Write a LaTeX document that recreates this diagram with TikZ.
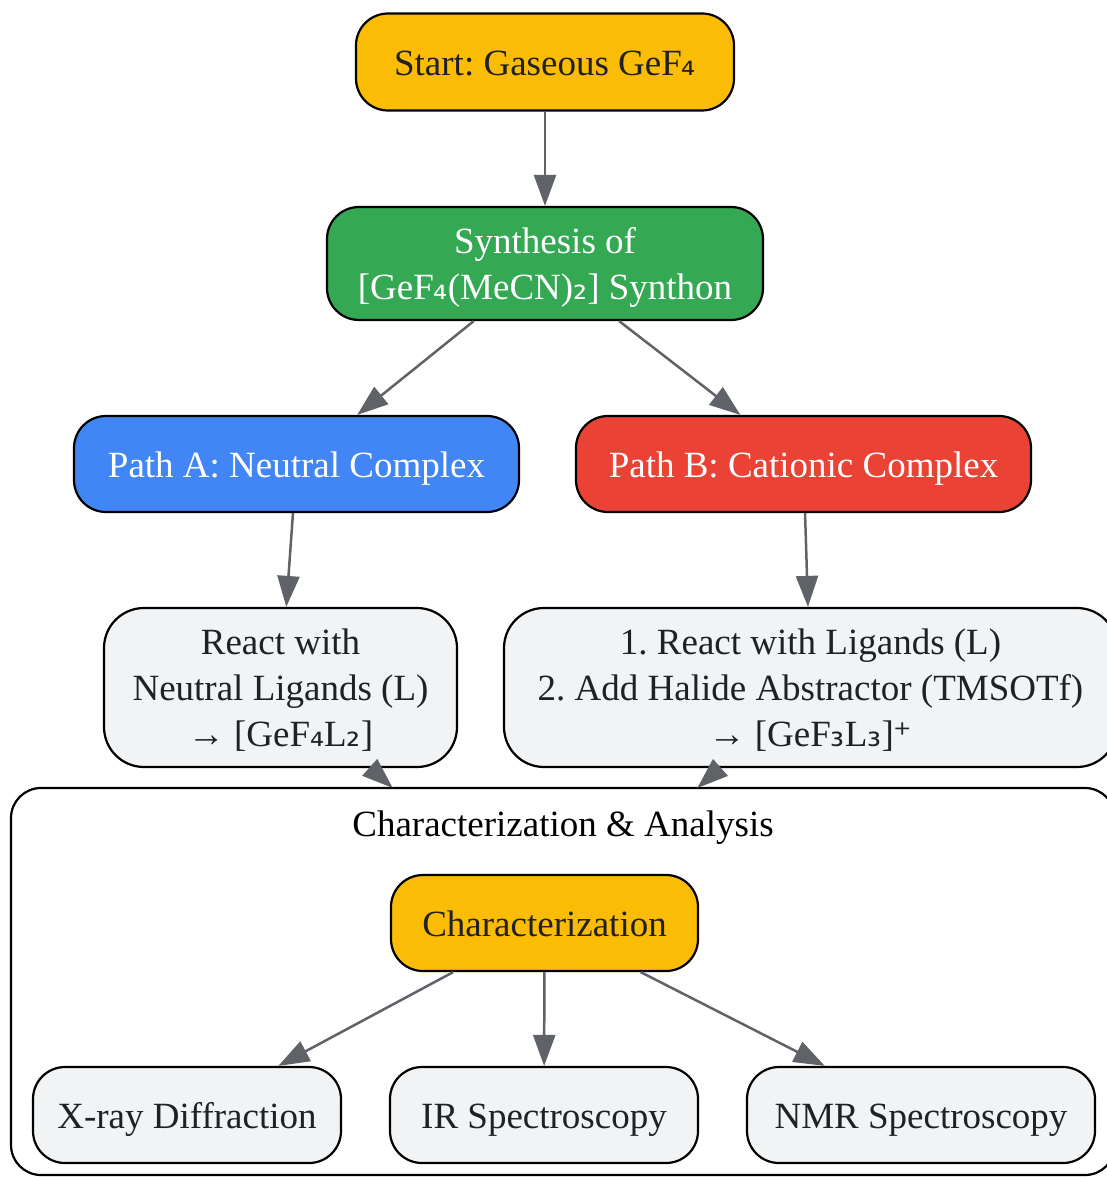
\documentclass[tikz,border=0pt]{standalone}
\usepackage{fontspec}
\setmainfont{Liberation Serif}
\newfontfamily\altfont{DejaVu Sans}
\usetikzlibrary{arrows.meta}
\frenchspacing
\definecolor{gyellow}{HTML}{FBBC05}
\definecolor{ggreen}{HTML}{34A853}
\definecolor{gblue}{HTML}{4285F4}
\definecolor{gred}{HTML}{EA4335}
\definecolor{glight}{HTML}{F1F3F4}
\definecolor{arrgray}{HTML}{5F6368}
\definecolor{txt}{HTML}{202124}
\newcommand{\sbs}[1]{{\altfont\fontsize{35}{35}\selectfont #1}}
\newcommand{\ls}{\rule[-9.8pt]{0pt}{46pt}}
\tikzset{
  box/.style={draw=black, line width=2.2pt, rounded corners=32pt, align=center,
    font=\fontsize{37}{46}\selectfont\frenchspacing, inner sep=0pt, text=txt},
  arr/.style={draw=arrgray, line width=2.5pt, -{Triangle[length=31pt,width=22pt]}, arrgray},
}
\begin{document}
\begin{tikzpicture}[x=1pt,y=-1pt]
\path[use as bounding box] (0,0) rectangle (1107,1177);
\clip (0,0) rectangle (1107,1177);

\node[box, fill=gyellow, minimum width=378pt, minimum height=97pt] (start) at (545,62)
  {\ls Start: Gaseous GeF\sbs{₄}};
\node[box, fill=ggreen, text=white, minimum width=436pt, minimum height=113pt] (synth) at (545,263.5)
  {\ls Synthesis of\\\ls [GeF\sbs{₄}(MeCN)\sbs{₂}] Synthon};
\node[box, fill=gblue, text=white, minimum width=445pt, minimum height=96pt] (pa) at (296.5,464)
  {\ls Path A: Neutral Complex};
\node[box, fill=gred, text=white, minimum width=455pt, minimum height=96pt] (pb) at (803.5,464)
  {\ls Path B: Cationic Complex};
\node[box, fill=glight, rounded corners=40pt, minimum width=353pt, minimum height=159pt] (ra) at (280.5,687.5)
  {\ls React with\\\ls Neutral Ligands (L)\\\ls → [GeF\sbs{₄}L\sbs{₂}]};
\node[box, fill=glight, rounded corners=40pt, minimum width=613pt, minimum height=159pt] (rb) at (810.5,687.5)
  {\ls 1. React with Ligands (L)\\\ls 2. Add Halide Abstractor (TMSOTf)\\\ls → [GeF\sbs{₃}L\sbs{₃}]\sbs{⁺}};

\draw[line width=2.2pt, rounded corners=30pt] (11,788) rectangle (1115,1175);
\node[font=\fontsize{37}{46}\selectfont, text=black, inner sep=0pt] (clab) at (563,823)
  {\ls Characterization \& Analysis};

\node[box, fill=gyellow, minimum width=307pt, minimum height=96pt] (ch) at (544.5,923)
  {\ls Characterization};
\node[box, fill=glight, minimum width=308pt, minimum height=96pt] (xr) at (187,1115)
  {\ls X-ray Diffraction};
\node[box, fill=glight, minimum width=308pt, minimum height=96pt] (ir) at (544,1115)
  {\ls IR Spectroscopy};
\node[box, fill=glight, minimum width=348pt, minimum height=96pt] (nmr) at (921,1115)
  {\ls NMR Spectroscopy};

\coordinate (inA) at (392.8,788);
\coordinate (inB) at (697.3,788);

\draw[arr] (start) -- (synth);
\draw[arr] (synth) -- (pa);
\draw[arr] (synth) -- (pb);
\draw[arr] (pa) -- (ra);
\draw[arr] (pb) -- (rb);
\draw[arr] (ra) -- (inA);
\draw[arr] (rb) -- (inB);
\draw[arr] (ch) -- (xr);
\draw[arr] (ch) -- (ir);
\draw[arr] (ch) -- (nmr);
\end{tikzpicture}
\end{document}
